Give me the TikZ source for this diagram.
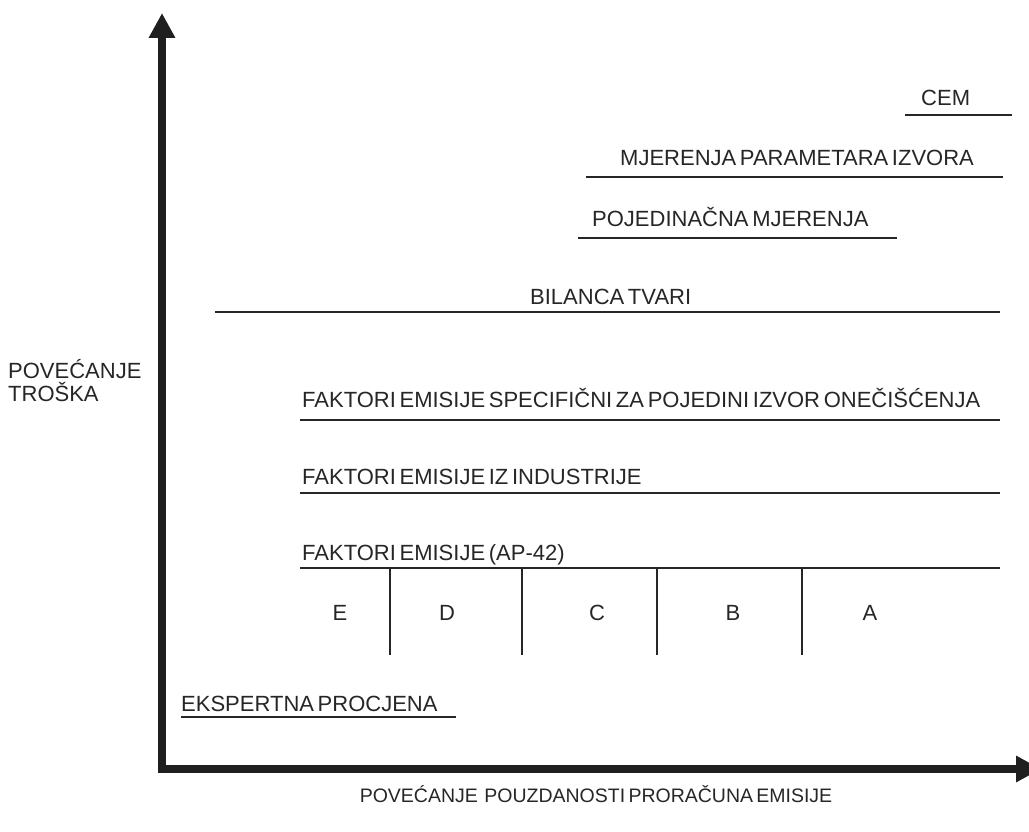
\documentclass[tikz,border=0pt]{standalone}
\usepackage{fontspec}
\setmainfont[WordSpace=0.6]{Liberation Sans}
\usetikzlibrary{arrows.meta}
\begin{document}
\begin{tikzpicture}[x=1pt,y=-1pt,
  lbl/.style={anchor=base west,inner sep=0pt,font=\fontsize{22}{25}\selectfont,text=black!85},
  bar/.style={line width=2pt,draw=black!85},
  axis/.style={line width=8pt,draw=black!88,line join=miter,
    {Triangle[length=25pt,width=25pt]}-{Triangle[length=25pt,width=25pt]}}]
\useasboundingbox (0,0) rectangle (1029,832);
% axes
\coordinate (Yt) at (162,13);
\coordinate (O) at (162,769);
\coordinate (Xt) at (1041,769);
\draw[axis] (Yt) -- (O) -- (Xt);
% levels
\node[lbl] (cem) at (921,106) {CEM};
\draw[bar] (905,115) -- (1012,115);
\node[lbl] (mpi) at (620,166) {MJERENJA PARAMETARA IZVORA};
\draw[bar] (586,177) -- (1003,177);
\node[lbl] (pm) at (592,226) {POJEDINAČNA MJERENJA};
\draw[bar] (578,238) -- (897,238);
\node[lbl] (bt) at (530,304) {BILANCA TVARI};
\draw[bar] (215,312) -- (1000,312);
\node[lbl] (fes) at (302,407) {FAKTORI EMISIJE SPECIFIČNI ZA POJEDINI IZVOR ONEČIŠĆENJA};
\draw[bar] (300,420) -- (1000,420);
\node[lbl] (fei) at (302,484) {FAKTORI EMISIJE IZ INDUSTRIJE};
\draw[bar] (300,493) -- (1000,493);
\node[lbl] (fap) at (302,560) {FAKTORI EMISIJE (AP-42)};
\draw[bar] (300,568) -- (1000,568);
\foreach \x in {390,522,657,802} \draw[bar] (\x,568) -- (\x,655);
\foreach \t/\x in {E/340,D/447,C/597,B/733,A/870}
  \node[lbl,anchor=base] (g\t) at (\x,620) {\t};
\node[lbl] (ep) at (181,711) {EKSPERTNA PROCJENA};
\draw[bar] (181,717) -- (456,717);
% axis labels
\node[lbl,anchor=north west,align=left,font=\fontsize{22}{23}\selectfont] (yl) at (8,359) {POVEĆANJE\\TROŠKA};
\node[lbl,anchor=base,font=\fontsize{19.5}{21}\selectfont] (xl) at (596,802) {POVEĆANJE\ \ POUZDANOSTI PRORAČUNA EMISIJE};
\end{tikzpicture}
\end{document}
